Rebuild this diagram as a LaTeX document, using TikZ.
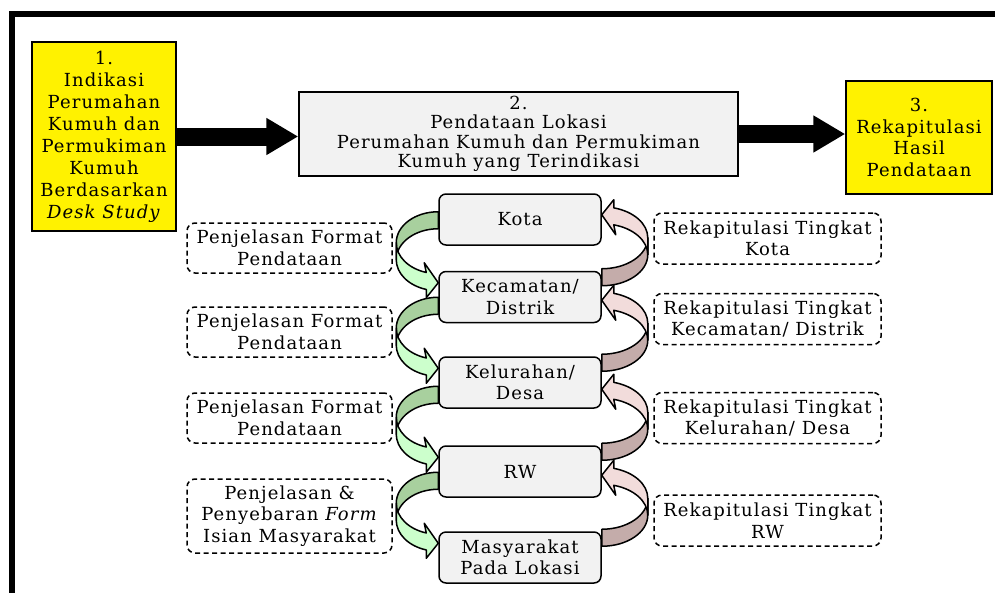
\documentclass[tikz,border=0pt]{standalone}
\usepackage{fontspec}
\setmainfont[LetterSpace=6]{DejaVu Serif}
\usetikzlibrary{positioning,calc,arrows.meta}

\definecolor{boxgray}{RGB}{242,242,242}
\definecolor{greendark}{RGB}{168,208,158}
\definecolor{greenlight}{RGB}{204,255,204}
\definecolor{pinklight}{RGB}{242,220,219}
\definecolor{pinkdark}{RGB}{196,172,170}

\tikzset{
    stage/.style={draw, line width=1.5pt, align=center, inner sep=1pt},
    level/.style={draw, line width=1.5pt, fill=boxgray, rounded corners=7pt,
        minimum width=162pt, minimum height=51pt, align=center, inner sep=1pt},
    note/.style={draw, line width=1.5pt, dash pattern=on 5pt off 3.5pt,
        rounded corners=8pt, align=center, inner sep=1pt},
    loopline/.style={draw=black, line width=1.5pt, line join=round},
    bigarrow/.style={line width=18pt, -{Triangle[length=32pt, width=35pt]}}
}

% green loop going down into the box, tip at #1
\newcommand{\downloop}[1]{%
    \begin{scope}[shift={(#1)}]
        \filldraw[loopline, fill=greendark] (0,71) arc[start angle=90, end angle=180, x radius=42, y radius=31]
            -- (-42,23) arc[start angle=180, end angle=90, x radius=42, y radius=31] -- cycle;
        \filldraw[loopline, fill=greenlight] (-42,40) arc[start angle=180, end angle=253.4, x radius=42, y radius=31]
            -- (-14,20) -- (0,0) -- (-12,-15) -- (-12,-6.7)
            arc[start angle=253.4, end angle=180, x radius=42, y radius=31] -- cycle;
    \end{scope}}

% pink loop going up into the box, tip at #1
\newcommand{\uploop}[1]{%
    \begin{scope}[shift={(#1)}]
        \filldraw[loopline, fill=pinkdark] (0,-71) arc[start angle=270, end angle=360, x radius=46, y radius=31]
            -- (46,-23) arc[start angle=0, end angle=-90, x radius=46, y radius=31] -- cycle;
        \filldraw[loopline, fill=pinklight] (46,-40) arc[start angle=0, end angle=74.9, x radius=46, y radius=31]
            -- (14,-20) -- (0,0) -- (12,15) -- (12,6.9)
            arc[start angle=74.9, end angle=0, x radius=46, y radius=31] -- cycle;
    \end{scope}}

\begin{document}
\begin{tikzpicture}[x=1pt, y=1pt, font=\fontsize{18}{21.5}\selectfont]
    \useasboundingbox (0,0) rectangle (995,-592);
    % frame
    \draw[line width=6pt] (11.5,-600) -- (11.5,-14) -- (1000,-14);

    % main steps
    \node[stage, fill=yellow, minimum width=144pt, minimum height=189pt,
        font=\fontsize{18}{22}\selectfont] (indikasi) at (104,-136.5)
        {1.\\Indikasi\\Perumahan\\Kumuh dan\\Permukiman\\Kumuh\\Berdasarkan\\\textit{Desk Study}};
    \node[stage, fill=boxgray, minimum width=439pt, minimum height=84pt,
        font=\fontsize{18}{19.5}\selectfont] (pendataan) at (518.5,-134)
        {2.\\Pendataan Lokasi\\Perumahan Kumuh dan Permukiman\\Kumuh yang Terindikasi};
    \node[stage, fill=yellow, minimum width=146pt, minimum height=113pt] (rekap) at (919,-137.5)
        {3.\\Rekapitulasi\\Hasil\\Pendataan};
    \draw[bigarrow] (indikasi.east) -- (indikasi.east -| pendataan.west);
    \draw[bigarrow] (pendataan.east) -- (pendataan.east -| rekap.west);

    % levels
    \node[level] (kota) at (520,-219.5) {Kota};
    \node[level] (kecamatan) at (520,-297) {Kecamatan/\\Distrik};
    \node[level] (kelurahan) at (520,-382.5) {Kelurahan/\\Desa};
    \node[level] (rw) at (520,-471.5) {RW};
    \node[level] (masyarakat) at (520,-557.5) {Masyarakat\\Pada Lokasi};

    % notes
    \node[note, minimum width=205pt, minimum height=50pt] (format1) at (289.5,-248) {Penjelasan Format\\Pendataan};
    \node[note, minimum width=205pt, minimum height=50pt] (format2) at (289.5,-332) {Penjelasan Format\\Pendataan};
    \node[note, minimum width=205pt, minimum height=50pt] (format3) at (289.5,-418) {Penjelasan Format\\Pendataan};
    \node[note, minimum width=205pt, minimum height=74pt] (sebaran) at (289.5,-516)
        {Penjelasan \&\\Penyebaran \textit{Form}\\Isian Masyarakat};
    \node[note, minimum width=227pt, minimum height=51pt] (rekapkota) at (767.5,-238.5) {Rekapitulasi Tingkat\\Kota};
    \node[note, minimum width=227pt, minimum height=51pt] (rekapkec) at (767.5,-319) {Rekapitulasi Tingkat\\Kecamatan/ Distrik};
    \node[note, minimum width=227pt, minimum height=51pt] (rekapkel) at (767.5,-418) {Rekapitulasi Tingkat\\Kelurahan/ Desa};
    \node[note, minimum width=227pt, minimum height=51pt] (rekaprw) at (767.5,-520.5) {Rekapitulasi Tingkat\\RW};

    % loops between levels
    \foreach \lower in {kecamatan,kelurahan,rw,masyarakat} {
        \downloop{$(\lower.north west)+(0,-12)$}
        \uploop{$(\lower.north east)+(0,56)$}
    }
\end{tikzpicture}
\end{document}
